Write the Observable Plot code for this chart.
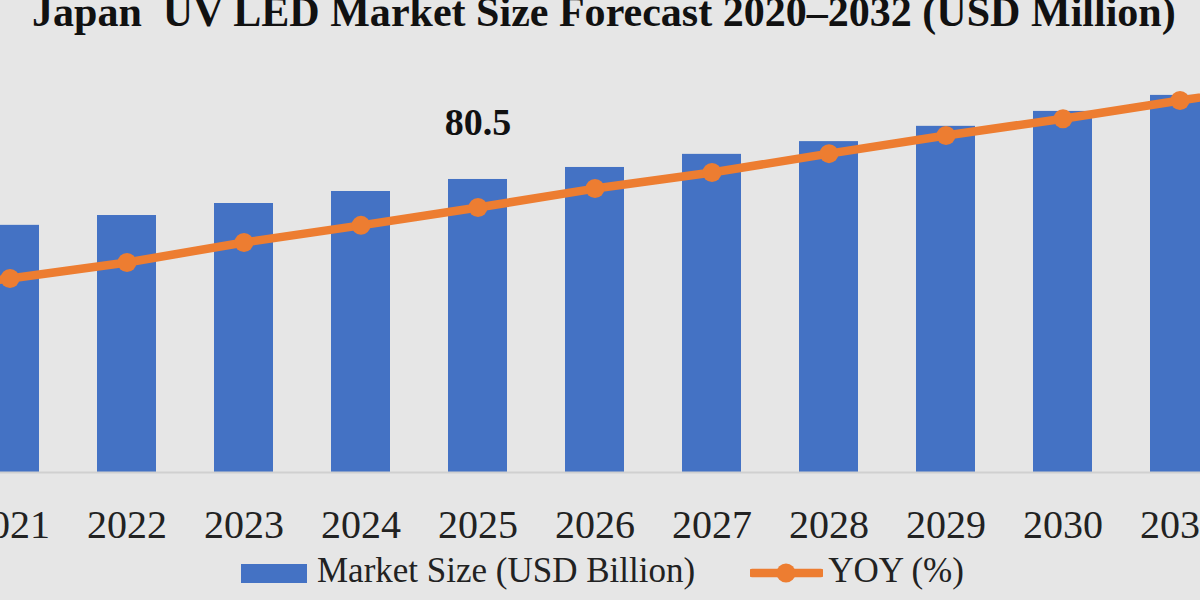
<!DOCTYPE html>
<html>
<head>
<meta charset="utf-8">
<script src="https://cdn.jsdelivr.net/npm/d3@7"></script>
<script src="https://cdn.jsdelivr.net/npm/@observablehq/plot@0.6"></script>
<style>
  html, body { margin: 0; padding: 0; }
  body { width: 1200px; height: 600px; overflow: hidden; position: relative; background: #e6e6e6;
         font-family: "Liberation Serif", serif; color: #111; }
  #title { position: absolute; left: 32px; top: -11px; font-weight: bold; font-size: 44px; line-height: 1;
           white-space: pre; color: #111; }
  #chart { position: absolute; left: 0; top: 40px; }
  #legend { position: absolute; left: 241px; top: 551px; display: flex; align-items: flex-start; font-size: 35px; line-height: 40px; white-space: nowrap; color: #222; }
  .sw { width: 66px; height: 19px; background: #4472c4; margin-top: 13px; margin-right: 10px; }
  .ln { width: 73px; height: 30px; margin-top: 7px; margin-left: 55px; margin-right: 5px; }
</style>
</head>
<body>
<div id="title">Japan  UV LED Market Size Forecast 2020–2032 (USD Million)</div>
<div id="chart"></div>
<div id="legend">
  <div class="sw"></div><span>Market Size (USD Billion)</span>
  <svg class="ln" width="73" height="30"><line x1="2" y1="15" x2="71" y2="15" stroke="#ed7d31" stroke-width="8.5" stroke-linecap="round"/><circle cx="36" cy="15" r="9.5" fill="#ed7d31"/></svg>
  <span>YOY (%)</span>
</div>
<script>
const years = [2020, 2021, 2022, 2023, 2024, 2025, 2026, 2027, 2028, 2029, 2030, 2031, 2032];
const marketSize = [65.0, 67.9, 70.6, 73.9, 77.2, 80.5, 83.8, 87.4, 90.9, 95.1, 99.2, 103.6, 108.0];
const yoy = [4.9, 5.33, 5.77, 6.32, 6.79, 7.28, 7.80, 8.24, 8.76, 9.26, 9.72, 10.22, 10.7];
const yoyAxisFactor = 10; // secondary (YOY %) axis mapped onto the market-size axis
const labelYear = 2025;

// fit title width to the reference's span
(function fitTitle() {
  const el = document.getElementById("title");
  const ctx = document.createElement("canvas").getContext("2d");
  ctx.font = 'bold 100px "Liberation Serif"';
  const w = ctx.measureText(el.textContent).width;
  const F = 100 * 1145 / w;
  el.style.fontSize = F + "px";
  el.style.top = (26 - 0.8375 * F) + "px";
})();

const data = years.map((y, i) => ({year: String(y), market: marketSize[i], yoy: yoy[i]}));

const chart = Plot.plot({
  width: 1200,
  height: 508,
  marginTop: 68,
  marginBottom: 76,
  marginLeft: 0,
  marginRight: 0,
  style: {background: "transparent", fontFamily: "Liberation Serif"},
  x: {type: "band", domain: years.map(String), range: [-169, 1357], paddingInner: 0.5, paddingOuter: 0.25, label: null},
  y: {domain: [0, 100], axis: null},
  marks: [
    Plot.barY(data, {x: "year", y: "market", fill: "#4472c4"}),
    Plot.ruleY([0], {stroke: "#d0d0d0", strokeWidth: 2}),
    Plot.line(data, {x: "year", y: d => d.yoy * yoyAxisFactor, stroke: "#ed7d31", strokeWidth: 8.5}),
    Plot.dot(data, {x: "year", y: d => d.yoy * yoyAxisFactor, r: 9.5, fill: "#ed7d31"}),
    Plot.text(data.filter(d => d.year === String(labelYear)), {x: "year", y: "market", text: d => d.market.toFixed(1), dy: -57, fontSize: 38, fontWeight: "bold", fill: "#111"}),
    Plot.axisX({tickSize: 0, tickPadding: 37, fontSize: 40, fill: "#222", label: null})
  ]
});
document.getElementById("chart").appendChild(chart);
</script>
</body>
</html>
